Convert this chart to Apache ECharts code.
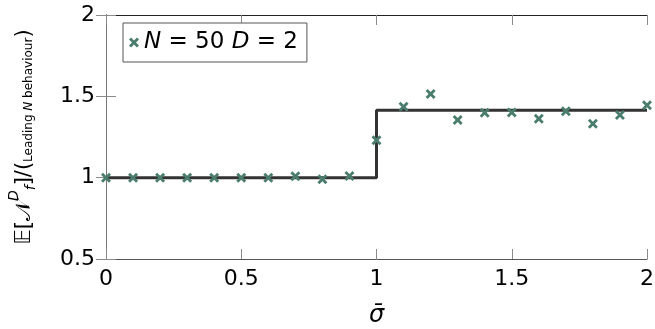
<!DOCTYPE html>
<html>
<head>
<meta charset="utf-8">
<script src="https://cdn.jsdelivr.net/npm/echarts@6/dist/echarts.min.js"></script>
<style>
  html, body { margin: 0; padding: 0; background: #fff; }
  #chart { width: 655px; height: 329px; }
</style>
</head>
<body>
<div id="chart"></div>
<script>
// sigma-bar values and measured expectation ratio
const sigmaVals = [0, 0.1, 0.2, 0.3, 0.4, 0.5, 0.6, 0.7, 0.8, 0.9, 1.0,
  1.1, 1.2, 1.3, 1.4, 1.5, 1.6, 1.7, 1.8, 1.9, 2.0];
const ratioVals = [1.0, 1.0, 1.0, 1.0, 1.0, 1.0, 1.0, 1.008, 0.99, 1.01, 1.23,
  1.436, 1.514, 1.354, 1.399, 1.40, 1.362, 1.408, 1.332, 1.385, 1.445];

// leading-order step curve
const stepX = [0, 1, 1, 2];
const stepY = [1, 1, 1.414, 1.414];

const xTicks = [0, 0.5, 1, 1.5, 2];
const yTicks = [0.5, 1, 1.5, 2];

const seriesName = "N = 50 D = 2";
const markerColor = "#4b7d6e";
const crossPath = "path://M0,2 L2,0 L5,3 L8,0 L10,2 L7,5 L10,8 L8,10 L5,7 L2,10 L0,8 L3,5 Z";

const chart = echarts.init(document.getElementById("chart"));
const font = "DejaVu Sans";

const tickCommon = {
  inside: true,
  length: 10,
  lineStyle: { color: "#8a8a8a", width: 1 },
};

const option = {
  animation: false,
  grid: { left: 106, top: 15, width: 541, height: 244, outerBoundsMode: "none", containLabel: false },
  legend: {
    left: 123,
    top: 23,
    padding: [8, 9, 8, 6],
    borderColor: "#555",
    borderWidth: 1,
    borderRadius: 0,
    backgroundColor: "#fff",
    itemWidth: 10,
    itemHeight: 10,
    itemGap: 4,
    data: [{ name: seriesName, icon: crossPath }],
    formatter: () => "{i|N} = 50 {i|D} = 2",
    textStyle: {
      fontFamily: font,
      fontSize: 23,
      color: "#000",
      rich: { i: { fontFamily: font, fontSize: 23, fontStyle: "italic", color: "#000" } },
    },
    z: 10,
  },
  xAxis: [
    {
      type: "value",
      min: 0,
      max: 2,
      interval: 0.5,
      position: "bottom",
      axisLine: { lineStyle: { color: "#555", width: 1 } },
      axisTick: tickCommon,
      splitLine: { show: false },
      axisLabel: {
        fontFamily: font,
        fontSize: 22,
        color: "#000",
        margin: 9,
        formatter: (v) => (xTicks.includes(v) ? String(v) : ""),
      },
      name: "σ̄",
      nameLocation: "middle",
      nameGap: 45,
      nameTextStyle: { fontFamily: font, fontSize: 24, fontStyle: "italic", color: "#000" },
    },
    {
      type: "value",
      min: 0,
      max: 2,
      interval: 0.5,
      position: "top",
      axisLine: { lineStyle: { color: "#222", width: 1 } },
      axisTick: tickCommon,
      splitLine: { show: false },
      axisLabel: { show: false },
    },
  ],
  yAxis: [
    {
      type: "value",
      min: 0.5,
      max: 2,
      interval: 0.5,
      position: "left",
      axisLine: { show: true, lineStyle: { color: "#000", width: 1 } },
      axisTick: { show: true, ...tickCommon },
      splitLine: { show: false },
      axisLabel: {
        fontFamily: font,
        fontSize: 22,
        color: "#000",
        margin: 11,
        formatter: (v) => (yTicks.includes(v) ? String(v) : ""),
      },
      name: "{b|𝔼[𝒩}{sup|D}{sub|f}{b|]/(}{s|Leading }{si|N}{s| behaviour}{b|)}",
      nameLocation: "middle",
      nameRotate: 90,
      nameGap: 71,
      nameTextStyle: {
        fontFamily: font,
        color: "#000",
        rich: {
          b: { fontFamily: font, fontSize: 21, lineHeight: 28, verticalAlign: "bottom", color: "#000" },
          sup: { fontFamily: font, fontSize: 14, fontStyle: "italic", lineHeight: 28, verticalAlign: "top", color: "#000" },
          sub: { fontFamily: font, fontSize: 14, fontStyle: "italic", lineHeight: 28, verticalAlign: "bottom", padding: [0, 0, -3, 0], color: "#000" },
          s: { fontFamily: font, fontSize: 12, lineHeight: 28, verticalAlign: "bottom", color: "#000" },
          si: { fontFamily: font, fontSize: 12, fontStyle: "italic", lineHeight: 28, verticalAlign: "bottom", color: "#000" },
        },
      },
    },
    {
      type: "value",
      min: 0.5,
      max: 2,
      interval: 0.5,
      position: "right",
      axisLine: { show: true, lineStyle: { color: "#777", width: 1 } },
      axisTick: { show: true, ...tickCommon },
      splitLine: { show: false },
      axisLabel: { show: false },
    },
  ],
  series: [
    {
      name: "step",
      type: "line",
      data: stepX.map((x, i) => [x, stepY[i]]),
      showSymbol: false,
      lineStyle: { color: "#333", width: 3 },
      z: 2,
      silent: true,
    },
    {
      name: seriesName,
      type: "scatter",
      data: sigmaVals.map((x, i) => [x, ratioVals[i]]),
      symbol: crossPath,
      symbolSize: 10,
      itemStyle: { color: markerColor, opacity: 1 },
      z: 3,
    },
  ],
};

chart.setOption(option);
</script>
</body>
</html>
